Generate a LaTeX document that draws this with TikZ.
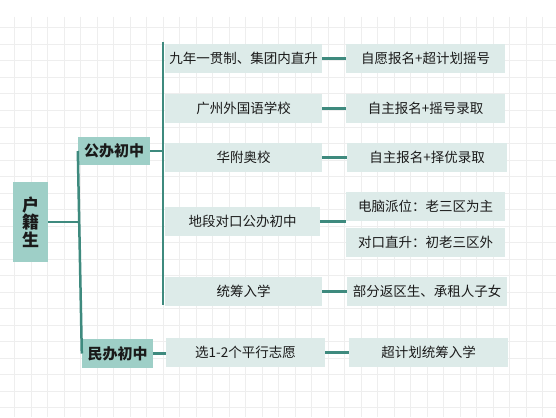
\documentclass[tikz,border=0pt]{standalone}
\usepackage{fontspec}
\setmainfont{Noto Sans CJK SC}
\definecolor{lightbox}{RGB}{221,235,233}
\definecolor{darkbox}{RGB}{158,207,199}
\definecolor{linec}{RGB}{62,138,126}
\definecolor{gridc}{RGB}{238,238,238}
\definecolor{txt}{RGB}{26,26,26}
\tikzset{
  lbox/.style={fill=lightbox, inner sep=0pt, minimum height=29pt, text=txt, font=\fontsize{13.5}{15}\selectfont},
  dbox/.style={fill=darkbox, inner sep=0pt, text=txt, font=\bfseries\fontsize{15}{17}\selectfont},
  conn/.style={draw=linec, line width=2.5pt}
}
\begin{document}
\begin{tikzpicture}[x=1pt,y=-1pt]
\useasboundingbox (0,0) rectangle (556,417);
\fill[white] (0,0) rectangle (556,417);
% grid
\begin{scope}
\clip (0,17) rectangle (556,417);
\foreach \i in {0,...,33} {\draw[gridc, line width=1pt] (14.5+16.5*\i,17) -- (14.5+16.5*\i,417);}
\foreach \j in {0,...,24} {\draw[gridc, line width=1pt] (0,28+16.5*\j) -- (556,28+16.5*\j);}
\end{scope}
% nodes
\node[dbox, minimum width=35pt, minimum height=80pt, align=center, font=\bfseries\fontsize{17}{17.7}\selectfont] (hj) at (30.5,222) {户\\籍\\生};
\node[dbox, minimum width=72pt, minimum height=28pt] (gb) at (114,151) {公办初中};
\node[dbox, minimum width=71pt, minimum height=29pt] (mb) at (117.5,353.5) {民办初中};
\node[lbox, minimum width=157pt] (a2) at (243.5,58.5) {九年一贯制、集团内直升};
\node[lbox, minimum width=157pt] (b2) at (243.5,108.5) {广州外国语学校};
\node[lbox, minimum width=157pt] (c2) at (243.5,157.5) {华附奥校};
\node[lbox, minimum width=155pt] (d2) at (242.5,221.5) {地段对口公办初中};
\node[lbox, minimum width=157pt] (e2) at (243.5,291.5) {统筹入学};
\node[lbox, minimum width=159pt] (f2) at (245.5,352.5) {选1-2个平行志愿};
\node[lbox, minimum width=159pt] (a3) at (425.5,58.5) {自愿报名+超计划摇号};
\node[lbox, minimum width=159pt] (b3) at (425.5,108.5) {自主报名+摇号录取};
\node[lbox, minimum width=160pt] (c3) at (427,157.5) {自主报名+择优录取};
\node[lbox, minimum width=159pt] (d3) at (425.5,206.5) {电脑派位：老三区为主};
\node[lbox, minimum width=159pt] (d4) at (425.5,242.5) {对口直升：初老三区外};
\node[lbox, minimum width=160pt] (e3) at (427,291.5) {部分返区生、承租人子女};
\node[lbox, minimum width=159pt] (f3) at (428.5,352.5) {超计划统筹入学};
% connectors
\coordinate (bt) at (163,42);
\coordinate (bb) at (163,305);
\begin{scope}[on background layer/.try]
\end{scope}
\draw[conn] (hj.east) -- (hj.east -| gb.west);
\draw[conn] (gb.west) -- (mb.west);
\draw[conn] (bt) -- (bb);
\draw[conn] (gb.east) -- (gb.east -| bt);
\draw[conn] (mb.east) -- (mb.east -| f2.west);
\draw[conn] (a2.east) -- (a3.west);
\draw[conn] (b2.east) -- (b3.west);
\draw[conn] (c2.east) -- (c3.west);
\draw[conn] (d2.east) -- (d2.east -| d3.west);
\draw[conn] (e2.east) -- (e3.west);
\draw[conn] (f2.east) -- (f3.west);
\end{tikzpicture}
\end{document}
